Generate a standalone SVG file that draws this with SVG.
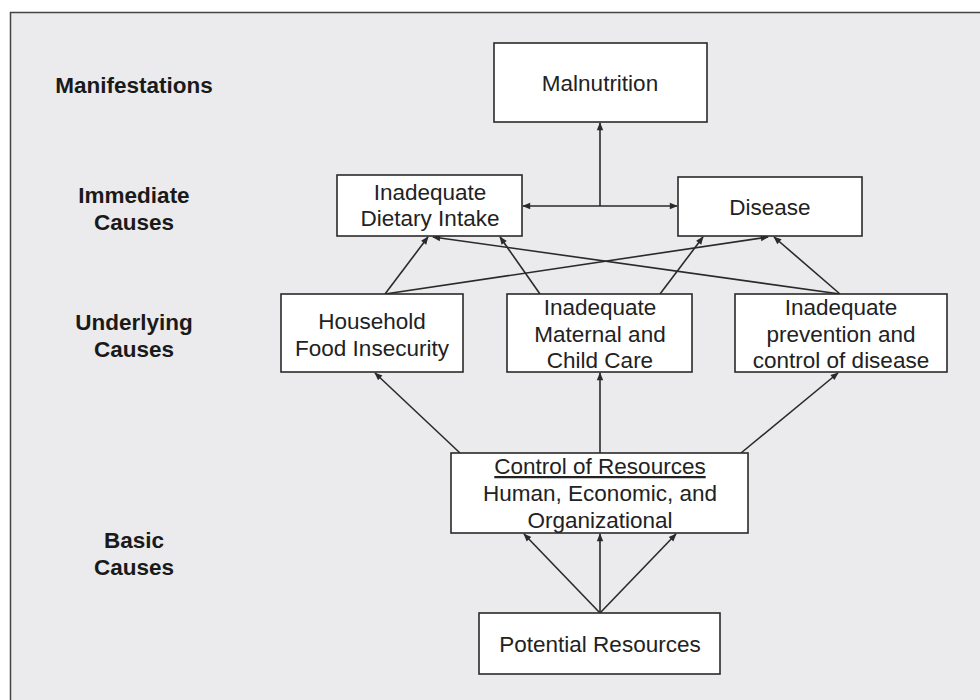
<svg xmlns="http://www.w3.org/2000/svg" width="980" height="700" viewBox="0 0 980 700">
<style>
.box{fill:#ffffff;stroke:#2a2a2a;stroke-width:1.6}
.t{font-family:"Liberation Sans",Arial,sans-serif;font-size:22.5px;fill:#222;text-anchor:middle}
.lab{font-family:"Liberation Sans",Arial,sans-serif;font-size:22.5px;font-weight:bold;fill:#1a1a1a;text-anchor:middle}
.c{stroke:#2a2a2a;stroke-width:1.6;fill:none}
</style>
<defs>
<marker id="ah" viewBox="0 0 10 10" refX="9" refY="5" markerWidth="9" markerHeight="8" markerUnits="userSpaceOnUse" orient="auto-start-reverse">
<path d="M0,1 L10,5 L0,9 z" fill="#2a2a2a"/>
</marker>
</defs>
<rect x="0" y="0" width="980" height="700" fill="#ffffff"/>
<rect x="10.5" y="12.5" width="980" height="700" fill="#ebebed" stroke="#444" stroke-width="1.5"/>
<g id="labels">
<text class="lab" x="134" y="93">Manifestations</text>
<text class="lab" x="134" y="203">Immediate</text>
<text class="lab" x="134" y="230">Causes</text>
<text class="lab" x="134" y="330">Underlying</text>
<text class="lab" x="134" y="357">Causes</text>
<text class="lab" x="134" y="548">Basic</text>
<text class="lab" x="134" y="575">Causes</text>
</g>
<g id="connectors">
<line class="c" x1="600" y1="206" x2="600" y2="123" marker-end="url(#ah)"/>
<line class="c" x1="523" y1="206" x2="677" y2="206" marker-start="url(#ah)" marker-end="url(#ah)"/>
<line class="c" x1="385" y1="294" x2="428" y2="237" marker-end="url(#ah)"/>
<line class="c" x1="385" y1="294" x2="768" y2="237" marker-end="url(#ah)"/>
<line class="c" x1="540" y1="294" x2="500" y2="237" marker-end="url(#ah)"/>
<line class="c" x1="660" y1="294" x2="703" y2="237" marker-end="url(#ah)"/>
<line class="c" x1="840" y1="294" x2="433" y2="237" marker-end="url(#ah)"/>
<line class="c" x1="840" y1="294" x2="774" y2="237" marker-end="url(#ah)"/>
<line class="c" x1="460" y1="453" x2="375" y2="373" marker-end="url(#ah)"/>
<line class="c" x1="600" y1="453" x2="600" y2="373" marker-end="url(#ah)"/>
<line class="c" x1="741" y1="453" x2="838" y2="373" marker-end="url(#ah)"/>
<line class="c" x1="600" y1="613" x2="524" y2="534" marker-end="url(#ah)"/>
<line class="c" x1="600" y1="613" x2="600" y2="534" marker-end="url(#ah)"/>
<line class="c" x1="600" y1="613" x2="676" y2="534" marker-end="url(#ah)"/>
</g>
<g id="malnutrition">
<rect class="box" x="494" y="43" width="213" height="79"/>
<text class="t" x="600" y="91">Malnutrition</text>
</g>
<g id="dietary">
<rect class="box" x="337" y="175" width="185" height="61"/>
<text class="t" x="430" y="200">Inadequate</text>
<text class="t" x="430" y="226">Dietary Intake</text>
</g>
<g id="disease">
<rect class="box" x="678" y="177" width="184" height="59"/>
<text class="t" x="770" y="215">Disease</text>
</g>
<g id="household">
<rect class="box" x="281" y="294" width="182" height="78"/>
<text class="t" x="372" y="329">Household</text>
<text class="t" x="372" y="356">Food Insecurity</text>
</g>
<g id="maternal">
<rect class="box" x="507" y="294" width="185" height="78"/>
<text class="t" x="600" y="315">Inadequate</text>
<text class="t" x="600" y="342">Maternal and</text>
<text class="t" x="600" y="368">Child Care</text>
</g>
<g id="prevention">
<rect class="box" x="735" y="294" width="212" height="78"/>
<text class="t" x="841" y="315">Inadequate</text>
<text class="t" x="841" y="342">prevention and</text>
<text class="t" x="841" y="368">control of disease</text>
</g>
<g id="control">
<rect class="box" x="451" y="453" width="297" height="80"/>
<text class="t" x="600" y="474" text-decoration="underline">Control of Resources</text>
<text class="t" x="600" y="501">Human, Economic, and</text>
<text class="t" x="600" y="528">Organizational</text>
</g>
<g id="potential">
<rect class="box" x="479" y="613" width="241" height="61"/>
<text class="t" x="600" y="652">Potential Resources</text>
</g>
</svg>
